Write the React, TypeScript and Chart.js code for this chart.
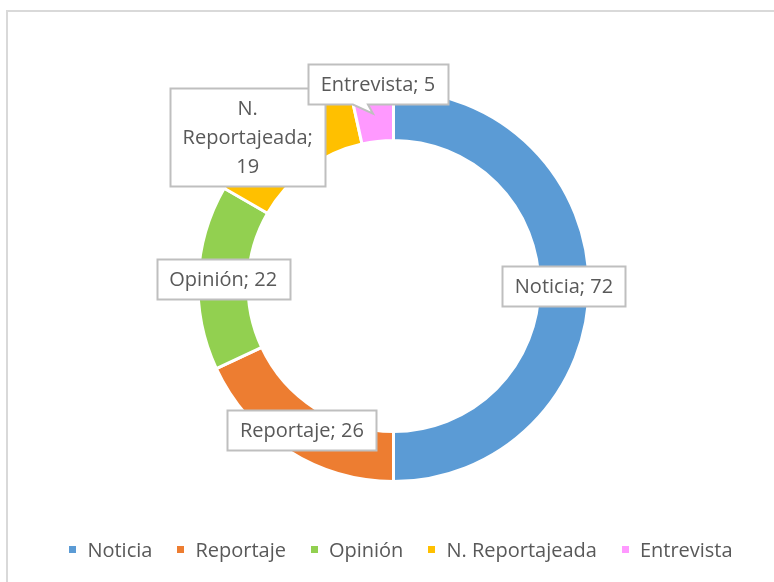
import React, { useEffect, useRef } from "react";
import { Chart, registerables } from "chart.js";

Chart.register(...registerables);

const categories = ["Noticia", "Reportaje", "Opinión", "N. Reportajeada", "Entrevista"];
const values = [72, 26, 22, 19, 5];
const colors = ["#5B9BD5", "#ED7D31", "#92D050", "#FFC000", "#FF99FF"];

const FONT = '"Open Sans", sans-serif';
const TEXT_COLOR = "#595959";
const W = 774;
const H = 582;

// per-slice label nudges (layout only)
const labelTweaks: Record<number, { dx: number; dy: number; callout?: boolean }> = {
  3: { dx: -45, dy: -12 },
  4: { dx: 3, dy: -33, callout: true },
};

function wrapText(ctx: CanvasRenderingContext2D, text: string, maxW: number): string[] {
  const words = text.split(" ");
  const lines: string[] = [];
  let cur = "";
  for (const w of words) {
    const test = cur ? cur + " " + w : w;
    if (cur && ctx.measureText(test).width > maxW) {
      lines.push(cur);
      cur = w;
    } else {
      cur = test;
    }
  }
  if (cur) lines.push(cur);
  return lines;
}

const framePlugin = {
  id: "frame",
  beforeDraw(chart: any) {
    const ctx = chart.ctx as CanvasRenderingContext2D;
    ctx.save();
    ctx.strokeStyle = "#d9d9d9";
    ctx.lineWidth = 2;
    ctx.beginPath();
    ctx.moveTo(7, chart.height + 2);
    ctx.lineTo(7, 11);
    ctx.lineTo(chart.width + 2, 11);
    ctx.stroke();
    ctx.restore();
  },
};

const labelPlugin = {
  id: "sliceLabels",
  afterDatasetsDraw(chart: any) {
    const ctx = chart.ctx as CanvasRenderingContext2D;
    const meta = chart.getDatasetMeta(0);
    const labels = chart.data.labels as string[];
    const data = chart.data.datasets[0].data as number[];
    ctx.save();
    ctx.font = `20px ${FONT}`;
    ctx.textAlign = "center";
    ctx.textBaseline = "middle";
    meta.data.forEach((arc: any, i: number) => {
      const pos = arc.tooltipPosition(false);
      const text = `${labels[i]}; ${data[i]}`;
      const lines = wrapText(ctx, text, 150);
      const lh = 29;
      const tw = Math.max(...lines.map((l) => ctx.measureText(l).width));
      const bw = Math.round(tw + 25);
      const bh = lines.length * lh + 11;
      const t = labelTweaks[i] || { dx: 0, dy: 0 };
      const cx = pos.x + t.dx;
      const cy = pos.y + t.dy;
      const x0 = Math.round(cx - bw / 2) + 0.5;
      const y0 = Math.round(cy - bh / 2) + 0.5;
      const x1 = x0 + bw;
      const y1 = y0 + bh;
      ctx.beginPath();
      ctx.moveTo(x0, y0);
      ctx.lineTo(x1, y0);
      ctx.lineTo(x1, y1);
      if (t.callout) {
        ctx.lineTo(cx - 10, y1);
        ctx.lineTo(pos.x - 2, pos.y - 3);
        ctx.lineTo(cx - 25, y1);
      }
      ctx.lineTo(x0, y1);
      ctx.closePath();
      ctx.fillStyle = "#ffffff";
      ctx.fill();
      ctx.strokeStyle = "#bfbfbf";
      ctx.lineWidth = 2;
      ctx.stroke();
      ctx.fillStyle = TEXT_COLOR;
      lines.forEach((l, k) => {
        ctx.fillText(l, cx, y0 + 5.5 + lh * (k + 0.5) + 1);
      });
    });
    ctx.restore();
  },
};

const legendPlugin = {
  id: "bottomLegend",
  afterDraw(chart: any) {
    const ctx = chart.ctx as CanvasRenderingContext2D;
    const labels = chart.data.labels as string[];
    const bg = chart.data.datasets[0].backgroundColor as string[];
    ctx.save();
    ctx.font = `20px ${FONT}`;
    ctx.textBaseline = "middle";
    ctx.textAlign = "left";
    const sq = 7;
    const textOff = 18;
    const gap = 25;
    const widths = labels.map((l) => ctx.measureText(l).width);
    const total = widths.reduce((a, w) => a + textOff + w, 0) + gap * (labels.length - 1);
    let x = 401 - total / 2;
    const y = 550;
    labels.forEach((l, i) => {
      ctx.fillStyle = bg[i];
      ctx.fillRect(Math.round(x), y - 4, sq, sq);
      ctx.fillStyle = TEXT_COLOR;
      ctx.fillText(l, x + textOff, y + 1);
      x += textOff + widths[i] + gap;
    });
    ctx.restore();
  },
};

export default function App() {
  const ref = useRef<HTMLCanvasElement | null>(null);
  useEffect(() => {
    if (!ref.current) return;
    const chart = new Chart(ref.current, {
      type: "doughnut",
      data: {
        labels: categories,
        datasets: [
          {
            data: values,
            backgroundColor: colors,
            borderColor: "#ffffff",
            borderWidth: 3,
          },
        ],
      },
      options: {
        responsive: false,
        animation: false,
        events: [],
        radius: 195.5,
        cutout: "74.4%",
        layout: { padding: { left: 200, right: 187, top: 92, bottom: 102 } },
        plugins: {
          legend: { display: false },
          tooltip: { enabled: false },
        },
      } as any,
      plugins: [framePlugin, labelPlugin, legendPlugin],
    });
    return () => chart.destroy();
  }, []);
  return (
    <div style={{ position: "fixed", left: 0, top: 0, width: W, height: H, background: "#fff" }}>
      <canvas ref={ref} width={W} height={H} style={{ display: "block" }} />
    </div>
  );
}
